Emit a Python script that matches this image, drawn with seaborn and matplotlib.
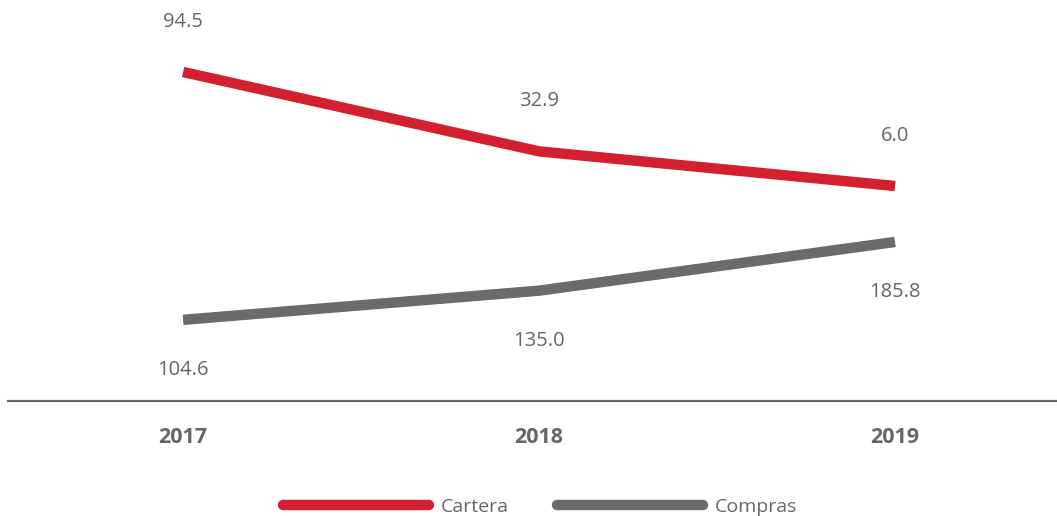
import matplotlib
matplotlib.use("Agg")
import matplotlib.pyplot as plt
import seaborn as sns
import pandas as pd

years = [2017, 2018, 2019]
cartera = [94.5, 32.9, 6.0]
compras = [104.6, 135.0, 185.8]

RED = "#d3202f"
GRAY = "#6b6b6d"
TXT = "#666666"

sns.set_style("white")
plt.rcParams["font.family"] = ["Open Sans", "DejaVu Sans"]

df = pd.DataFrame({"year": years, "Cartera": cartera, "Compras": compras})

fig = plt.figure(figsize=(10.57, 5.16), dpi=100)
ax = fig.add_axes([8 / 1057, 1 - 401 / 516, 1049 / 1057, 401 / 516])
ax2 = ax.twinx()

sns.lineplot(data=df, x="year", y="Compras", ax=ax, color=GRAY, lw=7.5,
             solid_capstyle="butt")
sns.lineplot(data=df, x="year", y="Cartera", ax=ax2, color=RED, lw=7.5,
             solid_capstyle="butt")

ax.set_xlim(2016.508, 2019.455)
ax.set_ylim(20, 438)
ax2.set_ylim(-160.9, 150.4)

for x, v in zip(years, compras):
    ax.annotate(f"{v:.1f}", (x, v), xytext=(0, -50), textcoords="offset pixels",
                ha="center", va="center", fontsize=14.5, color=TXT)
for x, v in zip(years, cartera):
    ax2.annotate(f"{v:.1f}", (x, v), xytext=(0, 50), textcoords="offset pixels",
                 ha="center", va="center", fontsize=14.5, color=TXT)

for a in (ax, ax2):
    for s in a.spines.values():
        s.set_visible(False)
    a.set_ylabel("")
    a.set_yticks([])
ax.spines["bottom"].set_visible(True)
ax.spines["bottom"].set_color(TXT)
ax.spines["bottom"].set_linewidth(1.6)

ax.set_xticks(years)
ax.set_xticklabels([str(y) for y in years], fontsize=15.5, fontweight="bold", color=TXT)
ax.tick_params(axis="x", length=0, pad=19)
ax.set_xlabel("")

h1 = plt.Line2D([], [], color=RED, lw=7.5, solid_capstyle="round")
h2 = plt.Line2D([], [], color=GRAY, lw=7.5, solid_capstyle="round")
leg = fig.legend([h1, h2], ["Cartera", "Compras"], loc="center", ncol=2,
                 bbox_to_anchor=(0.511, 9 / 516), frameon=False, fontsize=14,
                 handlelength=7.5, columnspacing=2.5, handletextpad=0.6)
for t in leg.get_texts():
    t.set_color(TXT)

fig.savefig("out.png", dpi=100)
